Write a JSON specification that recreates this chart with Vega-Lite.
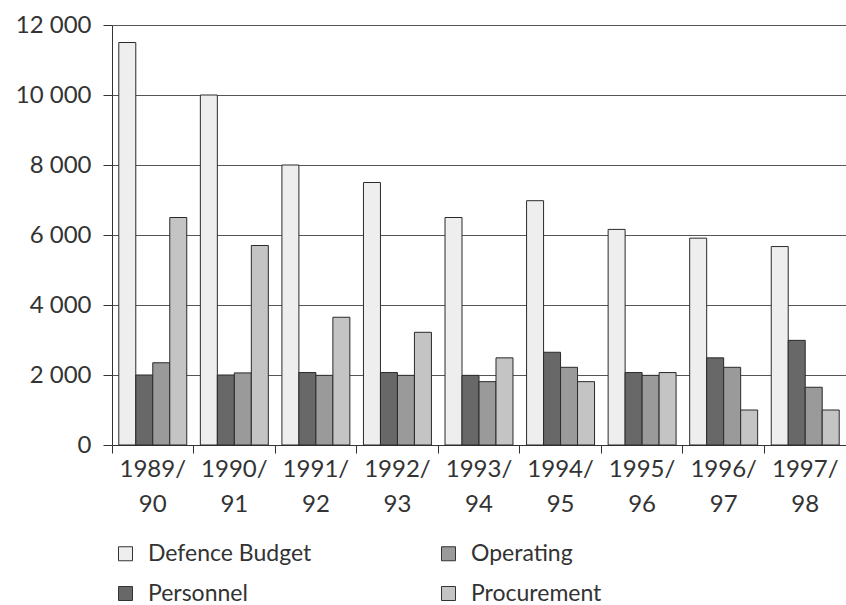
{
  "$schema": "https://vega.github.io/schema/vega-lite/v6.json",
  "width": 734,
  "height": 420,
  "autosize": {"type": "none"},
  "padding": {"left": 112, "top": 25, "right": 0, "bottom": 160},
  "background": "white",
  "config": {"font": "Lato", "view": {"stroke": null}},
  "data": {"values": [
    {"year": "1989/90", "series": "Defence Budget", "value": 11500},
    {"year": "1989/90", "series": "Personnel", "value": 2000},
    {"year": "1989/90", "series": "Operating", "value": 2350},
    {"year": "1989/90", "series": "Procurement", "value": 6500},
    {"year": "1990/91", "series": "Defence Budget", "value": 10000},
    {"year": "1990/91", "series": "Personnel", "value": 2000},
    {"year": "1990/91", "series": "Operating", "value": 2060},
    {"year": "1990/91", "series": "Procurement", "value": 5700},
    {"year": "1991/92", "series": "Defence Budget", "value": 8000},
    {"year": "1991/92", "series": "Personnel", "value": 2070},
    {"year": "1991/92", "series": "Operating", "value": 1990},
    {"year": "1991/92", "series": "Procurement", "value": 3650},
    {"year": "1992/93", "series": "Defence Budget", "value": 7500},
    {"year": "1992/93", "series": "Personnel", "value": 2070},
    {"year": "1992/93", "series": "Operating", "value": 1990},
    {"year": "1992/93", "series": "Procurement", "value": 3220},
    {"year": "1993/94", "series": "Defence Budget", "value": 6500},
    {"year": "1993/94", "series": "Personnel", "value": 1990},
    {"year": "1993/94", "series": "Operating", "value": 1810},
    {"year": "1993/94", "series": "Procurement", "value": 2490},
    {"year": "1994/95", "series": "Defence Budget", "value": 6980},
    {"year": "1994/95", "series": "Personnel", "value": 2650},
    {"year": "1994/95", "series": "Operating", "value": 2220},
    {"year": "1994/95", "series": "Procurement", "value": 1810},
    {"year": "1995/96", "series": "Defence Budget", "value": 6160},
    {"year": "1995/96", "series": "Personnel", "value": 2070},
    {"year": "1995/96", "series": "Operating", "value": 1990},
    {"year": "1995/96", "series": "Procurement", "value": 2070},
    {"year": "1996/97", "series": "Defence Budget", "value": 5910},
    {"year": "1996/97", "series": "Personnel", "value": 2490},
    {"year": "1996/97", "series": "Operating", "value": 2220},
    {"year": "1996/97", "series": "Procurement", "value": 1000},
    {"year": "1997/98", "series": "Defence Budget", "value": 5670},
    {"year": "1997/98", "series": "Personnel", "value": 2990},
    {"year": "1997/98", "series": "Operating", "value": 1650},
    {"year": "1997/98", "series": "Procurement", "value": 1000}
  ]},
  "mark": {"type": "bar", "stroke": "#2a2a2a", "strokeWidth": 1},
  "encoding": {
    "x": {
      "field": "year", "type": "nominal", "sort": null,
      "scale": {"paddingInner": 0, "paddingOuter": 0},
      "axis": {
        "title": null, "labelAngle": 0, "bandPosition": 0,
        "labelExpr": "[slice(datum.label,0,5), slice(datum.label,5)]",
        "labelFont": "Lato", "labelFontSize": 24, "labelLineHeight": 35, "labelPadding": 4,
        "labelBaseline": "top", "labelColor": "#333",
        "tickSize": 8, "tickColor": "#333", "domainColor": "#333"
      }
    },
    "xOffset": {
      "field": "series", "type": "nominal",
      "scale": {"domain": ["Defence Budget", "Personnel", "Operating", "Procurement"], "paddingInner": 0, "paddingOuter": 0.4}
    },
    "y": {
      "field": "value", "type": "quantitative",
      "scale": {"domain": [0, 12000], "nice": false},
      "axis": {
        "title": null, "values": [0, 2000, 4000, 6000, 8000, 10000, 12000], "format": ",d",
        "labelExpr": "replace(datum.label, ',', ' ')",
        "labelFont": "Lato", "labelFontSize": 24, "labelColor": "#333", "labelPadding": 12,
        "tickSize": 9, "tickColor": "#333", "domain": true, "domainColor": "#333",
        "grid": true, "gridColor": "#555", "gridWidth": 1
      }
    },
    "color": {
      "field": "series", "type": "nominal",
      "scale": {"domain": ["Defence Budget", "Operating", "Personnel", "Procurement"], "range": ["#eeeeee", "#9a9a9a", "#686868", "#c4c4c4"]},
      "legend": {
        "title": null, "orient": "none", "direction": "horizontal", "legendX": 2, "legendY": 517, "columns": 2,
        "columnPadding": 125, "rowPadding": 16, "symbolType": "square", "symbolSize": 196,
        "symbolStrokeColor": "#333", "symbolStrokeWidth": 1, "labelFont": "Lato", "labelLimit": 400,
        "labelFontSize": 23, "labelColor": "#333", "labelOffset": 11
      }
    }
  }
}
